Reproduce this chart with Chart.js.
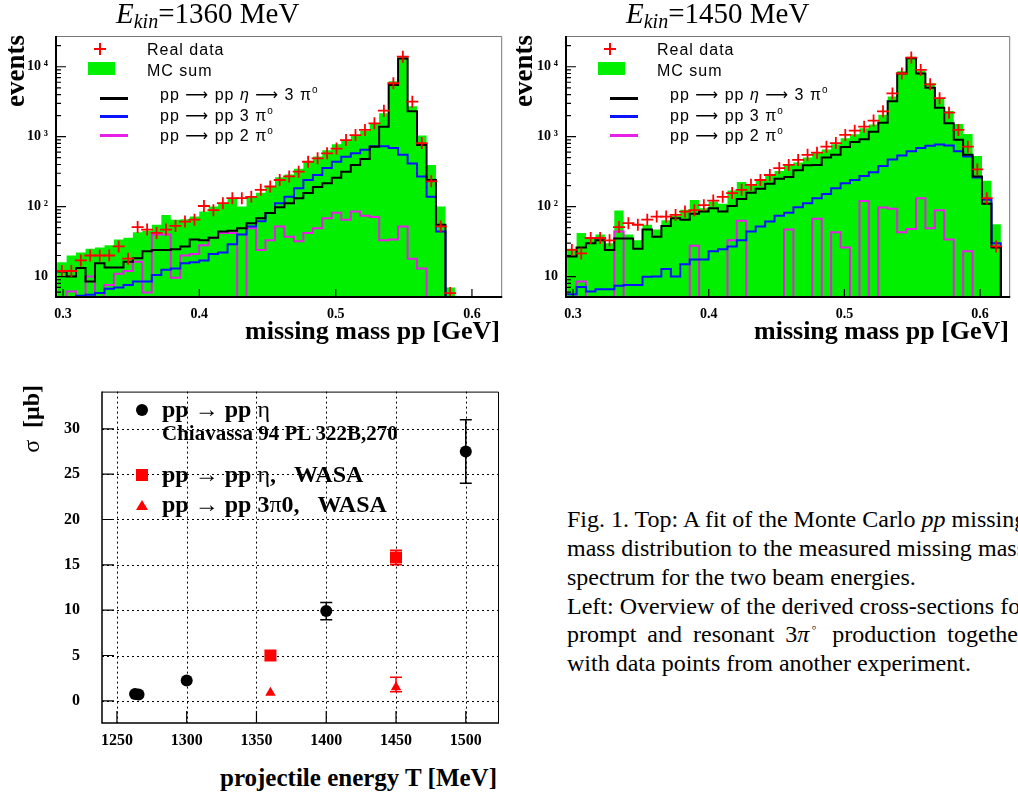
<!DOCTYPE html>
<html lang="en">
<head>
<meta charset="utf-8">
<title>pp missing mass and cross-sections</title>
<script src="https://cdn.jsdelivr.net/npm/chart.js@4.4.1/dist/chart.umd.min.js"></script>
<style>
  html, body { margin: 0; padding: 0; background: #fff; }
  body { width: 1018px; height: 796px; position: relative; overflow: hidden;
         font-family: 'Liberation Serif', 'Times New Roman', serif; color: #000; }
  canvas { position: absolute; }
  .abs { position: absolute; white-space: nowrap; }
  .title { font-size: 29px; line-height: 27px; }
  .title sub { font-size: 20px; line-height: 0; vertical-align: -5px; }
  .axt { font-weight: bold; font-size: 26px; line-height: 26px; text-align: right; }
  .vt { transform-origin: 0 0; transform: rotate(-90deg); text-align: right; width: 100px; font-weight: bold; }
  .leg { font-family: 'Liberation Sans', 'DejaVu Sans', sans-serif; font-size: 16px; line-height: 16px; letter-spacing: 1px; }
  .leg sup { font-size: 10px; line-height: 0; vertical-align: 7px; }
  .bl { font-weight: bold; font-size: 24px; line-height: 24px; }
  .cap { font-size: 24px; line-height: 28.9px; }
  .cap div { width: 459px; }
  .cap .j { text-align: justify; text-align-last: justify; }
  .cap sup { font-size: 14px; line-height: 0; vertical-align: 10px; margin-left: -3px; }
</style>
</head>
<body>

<canvas id="mm1360" width="510" height="325" style="left:0;top:0"></canvas>
<canvas id="mm1450" width="508" height="325" style="left:510px;top:0"></canvas>
<canvas id="xsec" width="510" height="400" style="left:0;top:360px"></canvas>

<!-- Titel und Achsentitel oben -->
<div class="abs title" style="left:116px;top:0"><i>E</i><sub><i>kin</i></sub>=1360 MeV</div>
<div class="abs title" style="left:626px;top:0"><i>E</i><sub><i>kin</i></sub>=1450 MeV</div>
<div class="abs vt" style="left:2px;top:135px;font-size:27px;line-height:27px">events</div>
<div class="abs vt" style="left:509.5px;top:135px;font-size:27px;line-height:27px">events</div>
<div class="abs axt" style="left:0;top:318px;width:500px">missing mass pp [GeV]</div>
<div class="abs axt" style="left:510px;top:318px;width:499px">missing mass pp [GeV]</div>

<!-- Wirkungsquerschnitt -->
<div class="abs vt" style="left:19px;top:485px;font-size:24px;line-height:24px"><span style="font-weight:normal">σ</span>&nbsp;&nbsp;[μb]</div>
<div class="abs" style="left:0;top:765px;width:497px;text-align:right;font-weight:bold;font-size:25px;line-height:25px">projectile energy T [MeV]</div>

<div class="abs" style="left:135.7px;top:404px;width:12px;height:12px;border-radius:50%;background:#000"></div>
<div class="abs bl" style="left:162px;top:396.6px">pp → pp <span style="font-weight:normal">η</span></div>
<div class="abs" style="left:162px;top:423.4px;font-weight:bold;font-size:21px;line-height:21px">Chiavassa 94 PL 322B,270</div>
<div class="abs" style="left:135.7px;top:469px;width:12px;height:12px;background:#ff0000"></div>
<div class="abs bl" style="left:162px;top:461.6px">pp → pp <span style="font-weight:normal">η</span>,&nbsp;&nbsp; WASA</div>
<div class="abs" style="left:135.7px;top:500px;width:0;height:0;border-left:6px solid transparent;border-right:6px solid transparent;border-bottom:10px solid #ff0000"></div>
<div class="abs bl" style="left:162px;top:491.6px">pp → pp 3<span style="font-weight:normal">π</span>0,&nbsp;&nbsp; WASA</div>

<!-- Bildunterschrift -->
<div class="abs cap" style="left:567px;top:504.8px">
  <div class="j">Fig. 1. Top: A fit of the Monte Carlo <i>pp</i> missing</div>
  <div class="j">mass distribution to the measured missing mass</div>
  <div>spectrum for the two beam energies.</div>
  <div class="j">Left: Overview of the derived cross-sections for</div>
  <div class="j">prompt and resonant 3<i>π</i><sup>◦</sup> production together</div>
  <div>with data points from another experiment.</div>
</div>

<script>
/* ═══════════════════════════════════════════════════════
   DATEN — Missing-Mass-Spektren (47 Bins) und Querschnitte
═══════════════════════════════════════════════════════ */

// bin edges of the missing mass histograms [GeV]
const massEdges = [0.2956, 0.3026, 0.3095, 0.3165, 0.3234, 0.3304, 0.3373, 0.3443, 0.3512, 0.3582,
  0.3651, 0.3721, 0.3790, 0.3860, 0.3929, 0.3999, 0.4068, 0.4138, 0.4207, 0.4277,
  0.4346, 0.4416, 0.4485, 0.4555, 0.4624, 0.4694, 0.4763, 0.4833, 0.4902, 0.4972,
  0.5041, 0.5111, 0.5180, 0.5250, 0.5319, 0.5389, 0.5458, 0.5528, 0.5597, 0.5667,
  0.5736, 0.5806, 0.5875, 0.5945, 0.6014, 0.6084, 0.6153, 0.6223];
const massTicks = [0.3, 0.4, 0.5, 0.6];
const eventTicks = [10, 100, 1000, 10000];

/* E_kin = 1360 MeV */
const realData1360 = [12, 12, 17, 20, 20, 20, 27, 18, 51, 47,
  42, 47, 53, 61, 65, 102, 89, 112, 132, 132,
  138, 174, 194, 240, 270, 316, 438, 490, 577, 675,
  895, 1055, 1250, 1550, 2350, 5800, 13900, 3160, 810, 230,
  52, 5.8, null, null, null, null, null];
const mcSum1360 = [16, 20, 22, 25, 26, 28, 34, 36, 43, 45,
  55, 76, 65, 66, 72, 85, 100, 112, 130, 100,
  140, 158, 195, 262, 287, 347, 438, 522, 638, 778,
  898, 1057, 1202, 1521, 2153, 6224, 13700, 2733, 1043, 395,
  100, 7, 0, 0, 0, 0, 0];
const eta1360 = [11.8, 10, 13.2, 8.5, 15.5, 13.5, 13.5, 16.3, 18.2, 23,
  24, 24, 24.5, 27, 34, 33, 36, 44, 45, 49,
  58, 68, 81, 98, 112, 132, 156, 190, 215, 258,
  316, 395, 478, 720, 1390, 5500, 13100, 2300, 760, 240,
  55, 0, 0, 0, 0, 0, 0];
const prompt1360 = [3.5, 3.5, 5.3, 5.5, 5.8, 6.7, 7.0, 7.6, 8.5, 8.5,
  10.5, 12.5, 13, 15.5, 16, 17, 21, 22, 29, 40,
  52, 62, 81, 112, 138, 183, 240, 283, 355, 438,
  517, 577, 650, 730, 730, 690, 550, 415, 270, 138,
  44, 0, 0, 0, 0, 0, 0];
const twoPi1360 = [0, 6.1, 0, 10, 0, 7.6, 11, 12, 16.3, 5.9,
  40, 40, 9.6, 20, 21, 28, 36, 42, 42, 0,
  49, 24, 33, 52, 37, 32, 42, 49, 68, 82,
  65, 85, 74, 71, 33, 34, 52, 18, 13, 0,
  0, 0, 0, 0, 0, 0, 0];

/* E_kin = 1450 MeV */
const realData1450 = [24, 21.4, 35.6, 35.6, 33, 51, 58, 55, 65, 72,
  72, 76, 85, 89, 105, 122, 138, 156, 174, 205,
  240, 283, 355, 395, 465, 550, 590, 720, 810, 1060,
  1220, 1390, 1700, 2300, 4150, 8000, 13500, 9000, 5600, 3550,
  2200, 1250, 720, 340, 132, 27, null];
const mcSum1450 = [25, 42, 36, 40, 30, 88, 40, 33, 55, 47,
  64, 74, 90, 124, 95, 118, 110, 170, 224, 202,
  232, 273, 324, 394, 428, 502, 594, 657, 776, 951,
  1080, 1315, 1490, 2057, 3763, 8583, 13868, 8822, 5789, 3459,
  2334, 1520, 1093, 530, 235, 56, 0];
const eta1450 = [19.4, 26, 30, 33, 24, 35, 35, 25, 47, 37,
  53, 68, 65, 79, 85, 95, 85, 102, 128, 158,
  180, 212, 250, 265, 330, 390, 395, 505, 550, 710,
  840, 920, 1180, 1580, 3200, 8000, 13200, 8000, 5000, 2600,
  1550, 900, 550, 270, 110, 26, 0];
const prompt1450 = [5.6, 7.1, 6.1, 6.6, 6.6, 7.4, 7.6, 7.6, 9.9, 10,
  12.8, 10, 15, 17.5, 17.5, 23, 24.5, 27, 33, 44,
  52, 61, 74, 82, 98, 112, 132, 152, 183, 215,
  240, 275, 310, 380, 470, 540, 620, 690, 740, 770,
  750, 620, 520, 260, 125, 30, 0];
const twoPi1450 = [0, 8.5, 0, 0, 0, 44, 0, 0, 0, 0,
  0, 0, 0, 27.6, 0, 0, 0, 33, 63, 0,
  0, 0, 0, 47, 0, 0, 67, 0, 43, 26,
  0, 120, 0, 97, 93, 43, 48, 132, 49, 89,
  34, 0, 23, 0, 0, 0, 0];

/* cross-sections [μb] vs beam energy [MeV] */
const energyTicks = [1250, 1300, 1350, 1400, 1450, 1500];
const sigmaTicks = [0, 5, 10, 15, 20, 25, 30];
const chiavassaEnergy = [1263, 1265.5, 1300, 1400, 1500];
const chiavassaSigma = [0.75, 0.7, 2.25, 9.9, 27.5];
const chiavassaErrUp = [0, 0, 0, 0.95, 3.5];
const chiavassaErrDown = [0, 0, 0, 0.95, 3.5];
const wasaEtaEnergy = [1360, 1450];
const wasaEtaSigma = [5.0, 15.8];
const wasaEtaErrUp = [0, 0.8];
const wasaEtaErrDown = [0, 0.8];
const wasa3PiEnergy = [1360, 1450];
const wasa3PiSigma = [0.9, 1.5];
const wasa3PiErrUp = [0, 1.1];
const wasa3PiErrDown = [0, 0.5];

/* ═══════════════════════════════════════════════════════
   HILFSFUNKTIONEN
═══════════════════════════════════════════════════════ */

const LOG_FLOOR = 1;   // empty bins: below the axis, drawn down to the frame
const GREEN = '#00f000';
const SERIF_BOLD = (size) => ({ family: 'Liberation Serif', weight: 'bold', size });
const SUP = { 2: '²', 3: '³', 4: '⁴' };
const NO_GRID = { display: false, drawTicks: false };

Chart.defaults.color = '#000';
Chart.defaults.font.family = 'Liberation Serif';

function histPoints(values) {
  const pts = values.map((v, k) => ({ x: massEdges[k], y: Math.max(v, LOG_FLOOR) }));
  pts.push({ x: massEdges[values.length], y: Math.max(values[values.length - 1], LOG_FLOOR) });
  return pts;
}

function crossPoints(values) {
  return values
    .map((v, k) => (v == null ? null : { x: (massEdges[k] + massEdges[k + 1]) / 2, y: v }))
    .filter(Boolean);
}

function xyPoints(xs, ys) {
  return xs.map((x, i) => ({ x, y: ys[i] }));
}

const fixTicks = (list) => (scale) => { scale.ticks = list.map(value => ({ value })); };

// ROOT-artiger Rahmen: Ticks nach innen, optional gepunktetes Gitter
const rootFrame = {
  id: 'rootFrame',
  beforeDatasetsDraw(chart, args, opts) {
    if (!opts.grid) return;
    const { ctx, chartArea: a, scales: { x, y } } = chart;
    ctx.save();
    ctx.strokeStyle = '#000';
    ctx.lineWidth = 1;
    ctx.setLineDash([2, 3]);
    ctx.beginPath();
    x.ticks.forEach(t => { const px = Math.round(x.getPixelForValue(t.value)) + 0.5; ctx.moveTo(px, a.top); ctx.lineTo(px, a.bottom); });
    y.ticks.forEach(t => { const py = Math.round(y.getPixelForValue(t.value)) + 0.5; ctx.moveTo(a.left, py); ctx.lineTo(a.right, py); });
    ctx.stroke();
    ctx.restore();
  },
  afterDatasetsDraw(chart, args, opts) {
    const { ctx, chartArea: a, scales: { x, y } } = chart;
    ctx.save();
    ctx.strokeStyle = '#000';
    ctx.lineWidth = 1.2;
    ctx.beginPath();
    x.ticks.forEach(t => { const px = x.getPixelForValue(t.value); ctx.moveTo(px, a.bottom); ctx.lineTo(px, a.bottom - opts.tickX); });
    y.ticks.forEach(t => { const py = y.getPixelForValue(t.value); ctx.moveTo(a.left, py); ctx.lineTo(a.left + opts.tickY, py); });
    (opts.minorY || []).forEach(v => {
      const py = y.getPixelForValue(v);
      if (py < a.top || py > a.bottom) return;
      ctx.moveTo(a.left, py); ctx.lineTo(a.left + opts.tickY / 2, py);
    });
    ctx.stroke();

    ctx.lineWidth = 1;
    ctx.strokeStyle = opts.frameColor;
    ctx.beginPath();
    ctx.moveTo(a.left, a.top + 0.5); ctx.lineTo(a.right - 0.5, a.top + 0.5); ctx.lineTo(a.right - 0.5, a.bottom);
    ctx.stroke();
    ctx.lineWidth = opts.axisWidth;
    ctx.strokeStyle = '#000';
    ctx.beginPath();
    ctx.moveTo(a.left, a.top); ctx.lineTo(a.left, a.bottom); ctx.lineTo(a.right, a.bottom);
    ctx.stroke();
    ctx.restore();
  },
};

// Fehlerbalken mit kleinen Querstrichen, unter den Markern
const errorBars = {
  id: 'errorBars',
  beforeDatasetsDraw(chart) {
    const { ctx, scales: { y } } = chart;
    chart.data.datasets.forEach((ds, i) => {
      if (!ds.errUp) return;
      const meta = chart.getDatasetMeta(i);
      ctx.save();
      ctx.strokeStyle = ds.pointBorderColor;
      ctx.lineWidth = 1.5;
      meta.data.forEach((pt, j) => {
        if (!ds.errUp[j]) return;
        const v = ds.data[j].y;
        const top = y.getPixelForValue(v + ds.errUp[j]), bot = y.getPixelForValue(v - ds.errDown[j]);
        ctx.beginPath();
        ctx.moveTo(pt.x, top); ctx.lineTo(pt.x, bot);
        ctx.moveTo(pt.x - 6, top); ctx.lineTo(pt.x + 6, top);
        ctx.moveTo(pt.x - 6, bot); ctx.lineTo(pt.x + 6, bot);
        ctx.stroke();
      });
      ctx.restore();
    });
  },
};

const minorEvents = [];
for (let d = 1; d <= 10000; d *= 10) for (let m = 2; m <= 9; m++) minorEvents.push(m * d);

/* ═══════════════════════════════════════════════════════
   MISSING-MASS-HISTOGRAMME
═══════════════════════════════════════════════════════ */

function massChart(id, real, mcSum, eta, prompt, twoPi) {
  const line = { stepped: true, pointRadius: 0, borderWidth: 2, fill: false };
  new Chart(document.getElementById(id), {
    type: 'line',
    data: {
      datasets: [
        { data: crossPoints(real), showLine: false, pointStyle: 'cross', pointRadius: 6,
          pointBorderColor: '#ff0000', pointBorderWidth: 1.8, order: 0 },
        { ...line, data: histPoints(eta), borderColor: '#000000', order: 1 },
        { ...line, data: histPoints(prompt), borderColor: '#0a14ff', order: 2 },
        { ...line, data: histPoints(twoPi), borderColor: '#e81ee8', order: 3 },
        { ...line, data: histPoints(mcSum), borderWidth: 0, borderColor: GREEN,
          backgroundColor: GREEN, fill: 'start', order: 4 },
      ],
    },
    options: {
      responsive: false, animation: false, events: [],
      layout: { padding: { left: 0, top: 36, right: 7, bottom: 0 } },
      plugins: {
        legend: { display: false }, tooltip: { enabled: false },
        rootFrame: { grid: false, tickX: 8, tickY: 10, minorY: minorEvents, frameColor: '#777', axisWidth: 2 },
      },
      scales: {
        x: {
          type: 'linear', min: 0.2948, max: 0.6222,
          grid: NO_GRID, border: { display: false },
          afterBuildTicks: fixTicks(massTicks),
          afterFit: s => { s.height = 28; },
          ticks: { font: SERIF_BOLD(14), padding: 9, maxRotation: 0, callback: v => v.toFixed(1) },
        },
        y: {
          type: 'logarithmic', min: 5.1, max: 27500,
          grid: NO_GRID, border: { display: false },
          afterBuildTicks: fixTicks(eventTicks),
          afterFit: s => { s.width = 56; },
          ticks: { font: SERIF_BOLD(14), padding: 8,
            callback: v => (v === 10 ? '10' : '10\u2009' + SUP[Math.round(Math.log10(v))]) },
        },
      },
    },
    plugins: [rootFrame],
  });
}

massChart('mm1360', realData1360, mcSum1360, eta1360, prompt1360, twoPi1360);
massChart('mm1450', realData1450, mcSum1450, eta1450, prompt1450, twoPi1450);

// Legenden der beiden Histogramme
function histLegend(dx) {
  return `
    <div class="abs" style="left:${94 + dx}px;top:48.2px;width:12px;height:1.6px;background:#f00"></div>
    <div class="abs" style="left:${99.2 + dx}px;top:43px;width:1.6px;height:12px;background:#f00"></div>
    <div class="abs leg" style="left:${147 + dx}px;top:41.5px">Real data</div>
    <div class="abs" style="left:${88 + dx}px;top:62px;width:27px;height:13px;background:${GREEN}"></div>
    <div class="abs leg" style="left:${147 + dx}px;top:62.5px">MC sum</div>
    <div class="abs" style="left:${100 + dx}px;top:96.8px;width:28px;height:3px;background:#000"></div>
    <div class="abs leg" style="left:${160 + dx}px;top:86.6px">pp ⟶ pp <i>η</i> ⟶ 3 π<sup>o</sup></div>
    <div class="abs" style="left:${100 + dx}px;top:115.2px;width:28px;height:3px;background:#0a14ff"></div>
    <div class="abs leg" style="left:${160 + dx}px;top:108px">pp ⟶ pp 3 π<sup>o</sup></div>
    <div class="abs" style="left:${100 + dx}px;top:133.5px;width:28px;height:3px;background:#e81ee8"></div>
    <div class="abs leg" style="left:${160 + dx}px;top:128px">pp ⟶ pp 2 π<sup>o</sup></div>`;
}
document.body.insertAdjacentHTML('beforeend', histLegend(0) + histLegend(510));

/* ═══════════════════════════════════════════════════════
   WIRKUNGSQUERSCHNITTE
═══════════════════════════════════════════════════════ */

new Chart(document.getElementById('xsec'), {
  type: 'scatter',
  data: {
    datasets: [
      { data: xyPoints(chiavassaEnergy, chiavassaSigma), errUp: chiavassaErrUp, errDown: chiavassaErrDown,
        pointStyle: 'circle', pointRadius: 6,
        pointBackgroundColor: '#000', pointBorderColor: '#000', pointBorderWidth: 0 },
      { data: xyPoints(wasaEtaEnergy, wasaEtaSigma), errUp: wasaEtaErrUp, errDown: wasaEtaErrDown,
        pointStyle: 'rect', pointRadius: 8.5,
        pointBackgroundColor: '#ff0000', pointBorderColor: '#ff0000', pointBorderWidth: 0 },
      { data: xyPoints(wasa3PiEnergy, wasa3PiSigma), errUp: wasa3PiErrUp, errDown: wasa3PiErrDown,
        pointStyle: 'triangle', pointRadius: 6,
        pointBackgroundColor: '#ff0000', pointBorderColor: '#ff0000', pointBorderWidth: 0 },
    ],
  },
  options: {
    responsive: false, animation: false, events: [],
    layout: { padding: { left: 0, top: 23, right: 11, bottom: 0 } },
    plugins: {
      legend: { display: false }, tooltip: { enabled: false },
      rootFrame: { grid: true, tickX: 12, tickY: 12, frameColor: '#000', axisWidth: 1.5 },
    },
    scales: {
      x: {
        type: 'linear', min: 1239.3, max: 1523.8,
        grid: NO_GRID, border: { display: false },
        afterBuildTicks: fixTicks(energyTicks),
        afterFit: s => { s.height = 37; },
        ticks: { font: SERIF_BOLD(16), padding: 8.5, maxRotation: 0, callback: v => String(v) },
      },
      y: {
        type: 'linear', min: -2.44, max: 34.1,
        grid: NO_GRID, border: { display: false },
        afterBuildTicks: fixTicks(sigmaTicks),
        afterFit: s => { s.width = 102; },
        ticks: { font: SERIF_BOLD(16), padding: 22, callback: v => String(v) },
      },
    },
  },
  plugins: [rootFrame, errorBars],
});
</script>
</body>
</html>
